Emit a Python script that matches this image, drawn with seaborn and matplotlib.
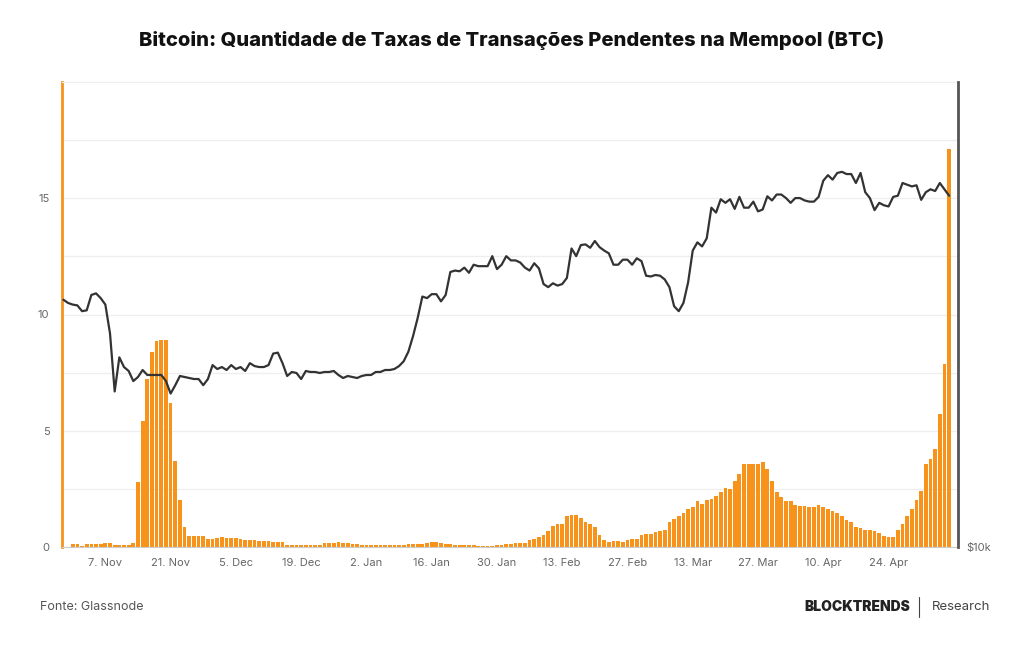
import pandas as pd
import numpy as np
import matplotlib
matplotlib.use("Agg")
import matplotlib.pyplot as plt
import matplotlib.dates as mdates
from matplotlib.ticker import FixedLocator, NullFormatter
from matplotlib.lines import Line2D
import seaborn as sns

# Taxas pendentes na mempool (BTC), diárias de 31 Out 2022 a 7 Mai 2023
fees_oct = [0.14]
fees_nov = [0.14, 0.06, 0.14, 0.14, 0.14, 0.14, 0.19, 0.19, 0.10, 0.10,
            0.10, 0.10, 0.17, 2.79, 5.42, 7.24, 8.39, 8.86, 8.89, 8.89,
            6.21, 3.72, 2.01, 0.86, 0.49, 0.49, 0.49, 0.49, 0.34, 0.34]
fees_dec = [0.37, 0.42, 0.37, 0.37, 0.37, 0.34, 0.30, 0.30, 0.30, 0.27,
            0.27, 0.24, 0.20, 0.20, 0.20, 0.10, 0.10, 0.10, 0.10, 0.10,
            0.10, 0.07, 0.10, 0.17, 0.17, 0.17, 0.20, 0.17, 0.17, 0.15, 0.12]
fees_jan = [0.10, 0.10, 0.08, 0.10, 0.10, 0.10, 0.08, 0.10, 0.10, 0.10,
            0.12, 0.12, 0.12, 0.15, 0.17, 0.20, 0.20, 0.17, 0.15, 0.12,
            0.10, 0.10, 0.10, 0.08, 0.08, 0.06, 0.06, 0.05, 0.06, 0.07, 0.10]
fees_feb = [0.14, 0.14, 0.17, 0.17, 0.17, 0.30, 0.34, 0.42, 0.50, 0.70,
            0.89, 1.00, 1.00, 1.35, 1.39, 1.38, 1.24, 1.09, 1.00, 0.85,
            0.53, 0.32, 0.22, 0.24, 0.26, 0.22, 0.30, 0.33]
fees_mar = [0.36, 0.50, 0.57, 0.57, 0.63, 0.69, 0.72, 1.09, 1.22, 1.35,
            1.47, 1.64, 1.71, 1.97, 1.85, 2.01, 2.07, 2.21, 2.36, 2.54,
            2.50, 2.82, 3.16, 3.55, 3.59, 3.56, 3.59, 3.66, 3.35, 2.82, 2.36]
fees_apr = [2.14, 1.97, 1.97, 1.80, 1.75, 1.75, 1.70, 1.72, 1.80, 1.72,
            1.64, 1.54, 1.47, 1.32, 1.18, 1.06, 0.86, 0.80, 0.72, 0.75,
            0.68, 0.60, 0.49, 0.43, 0.43, 0.72, 1.00, 1.32, 1.64, 2.04]
fees_may = [2.40, 3.55, 3.79, 4.22, 5.70, 7.86, 17.1]

# Preço do BTC (USD, milhares), diário de 29 Out 2022 a 7 Mai 2023
price_oct = [20.9, 20.7, 20.6]
price_nov = [20.55, 20.2, 20.25, 21.2, 21.3, 21.0, 20.6, 18.9, 15.9, 17.6,
             17.1, 16.9, 16.4, 16.6, 16.95, 16.7, 16.7, 16.7, 16.7, 16.4,
             15.8, 16.2, 16.65, 16.6, 16.55, 16.5, 16.5, 16.2, 16.5, 17.2]
price_dec = [17.0, 17.1, 16.95, 17.2, 17.0, 17.1, 16.9, 17.3, 17.15, 17.1,
             17.1, 17.2, 17.8, 17.85, 17.3, 16.65, 16.85, 16.8, 16.5, 16.9,
             16.85, 16.85, 16.8, 16.85, 16.85, 16.9, 16.7, 16.55, 16.65, 16.6, 16.55]
price_jan = [16.65, 16.7, 16.7, 16.85, 16.85, 16.95, 16.95, 17.0, 17.15, 17.4,
             17.9, 18.75, 19.8, 21.1, 21.0, 21.25, 21.25, 20.8, 21.2, 22.7,
             22.8, 22.75, 23.0, 22.65, 23.2, 23.1, 23.1, 23.1, 23.8, 22.9, 23.2]
price_feb = [23.8, 23.5, 23.5, 23.35, 23.0, 22.8, 23.3, 22.95, 21.9, 21.7,
             21.95, 21.8, 21.9, 22.3, 24.35, 23.8, 24.6, 24.65, 24.4, 24.9,
             24.45, 24.2, 24.0, 23.2, 23.2, 23.55, 23.55, 23.2]
price_mar = [23.65, 23.45, 22.45, 22.4, 22.5, 22.45, 22.2, 21.7, 20.5, 20.2,
             20.7, 22.0, 24.2, 24.8, 24.5, 25.1, 27.5, 27.1, 28.2, 27.9,
             28.2, 27.4, 28.4, 27.5, 27.5, 28.0, 27.2, 27.35, 28.45, 28.1, 28.6]
price_apr = [28.6, 28.3, 27.9, 28.3, 28.3, 28.1, 28.0, 28.0, 28.4, 29.8,
             30.3, 29.9, 30.5, 30.6, 30.4, 30.4, 29.6, 30.5, 28.8, 28.3,
             27.3, 27.9, 27.7, 27.6, 28.4, 28.5, 29.6, 29.45, 29.3, 29.4]
price_may = [28.15, 28.8, 29.05, 28.9, 29.6, 29.05, 28.5]

tick_dates = ["2022-11-07", "2022-11-21", "2022-12-05", "2022-12-19", "2023-01-02",
              "2023-01-16", "2023-01-30", "2023-02-13", "2023-02-27", "2023-03-13",
              "2023-03-27", "2023-04-10", "2023-04-24"]
tick_labels = ["7. Nov", "21. Nov", "5. Dec", "19. Dec", "2. Jan", "16. Jan", "30. Jan",
               "13. Feb", "27. Feb", "13. Mar", "27. Mar", "10. Apr", "24. Apr"]

fees = fees_oct + fees_nov + fees_dec + fees_jan + fees_feb + fees_mar + fees_apr + fees_may
prices = price_oct + price_nov + price_dec + price_jan + price_feb + price_mar + price_apr + price_may
fee_df = pd.DataFrame({"date": pd.date_range("2022-10-31", "2023-05-07"), "fees": fees})
price_df = pd.DataFrame({"date": pd.date_range("2022-10-29", "2023-05-07"),
                         "price": np.array(prices) * 1000})
fee_df["x"] = mdates.date2num(fee_df["date"])
price_df["x"] = mdates.date2num(price_df["date"])

sns.set_theme(style="white")
plt.rcParams["font.family"] = ["Inter", "DejaVu Sans"]

orange = "#f7931a"
fig = plt.figure(figsize=(10.24, 6.45), dpi=100)
ax = fig.add_axes([62 / 1024, 1 - 547 / 645, 896 / 1024, 465 / 645])

sns.barplot(data=fee_df, x="x", y="fees", native_scale=True, color=orange,
            saturation=1, width=0.8, linewidth=0, ax=ax, errorbar=None, zorder=2)

ax.set_ylim(0, 20)
ax.yaxis.set_major_locator(FixedLocator([0, 5, 10, 15]))
ax.yaxis.set_minor_locator(FixedLocator([2.5, 7.5, 12.5, 17.5]))
ax.grid(axis="y", which="both", color="#eeeeee", linewidth=0.9, zorder=0)
ax.set_axisbelow(True)
ax.tick_params(axis="y", which="both", length=0, pad=9, labelsize=8, labelcolor="#666666")

ax.set_xlim(mdates.date2num(pd.Timestamp("2022-10-28")) + 0.7,
            mdates.date2num(pd.Timestamp("2023-05-08")) + 0.9)
ax.set_xticks(mdates.date2num(pd.to_datetime(tick_dates)))
ax.set_xticklabels(tick_labels)
ax.tick_params(axis="x", length=4, width=0.8, color="#dddddd", pad=4,
               labelsize=8, labelcolor="#666666")
ax.set_xlabel("")
ax.set_ylabel("")

ax.spines["left"].set_color(orange)
ax.spines["left"].set_linewidth(2)
ax.spines["bottom"].set_color("#cccccc")
ax.spines["bottom"].set_linewidth(0.8)
ax.spines["top"].set_color("#eeeeee")
ax.spines["top"].set_linewidth(0.9)
ax.spines["right"].set_visible(False)

# Preço BTC no eixo direito (log)
ax2 = ax.twinx()
sns.lineplot(data=price_df, x="x", y="price", color="#333333", linewidth=1.6, ax=ax2)
ax2.set_yscale("log")
ax2.set_ylim(1e4, 4e4)
ax2.yaxis.set_major_locator(FixedLocator([1e4]))
ax2.yaxis.set_minor_locator(FixedLocator([]))
ax2.yaxis.set_minor_formatter(NullFormatter())
ax2.set_yticklabels(["$10k"])
ax2.tick_params(axis="y", length=0, pad=6, labelsize=8, labelcolor="#666666")
ax2.set_ylabel("")
ax2.set_xlabel("")
for s in ["left", "top", "bottom"]:
    ax2.spines[s].set_visible(False)
ax2.spines["right"].set_color("#555555")
ax2.spines["right"].set_linewidth(2)

fig.text(0.5, 1 - 40 / 645, "Bitcoin: Quantidade de Taxas de Transações Pendentes na Mempool (BTC)",
         ha="center", va="center", fontsize=14.5, fontweight="heavy", color="#111111")
fig.text(40 / 1024, 1 - 607 / 645, "Fonte: Glassnode", ha="left", va="center",
         fontsize=9, color="#555555")
fig.text(910 / 1024, 1 - 607 / 645, "BLOCKTRENDS", ha="right", va="center",
         fontsize=10, fontweight="black", color="#222222")
fig.text(990 / 1024, 1 - 607 / 645, "Research", ha="right", va="center",
         fontsize=9.5, color="#444444")
fig.add_artist(Line2D([919 / 1024, 919 / 1024], [1 - 617 / 645, 1 - 597 / 645],
                      color="#444444", linewidth=0.8))

fig.savefig("out.png", dpi=100, facecolor="white")
